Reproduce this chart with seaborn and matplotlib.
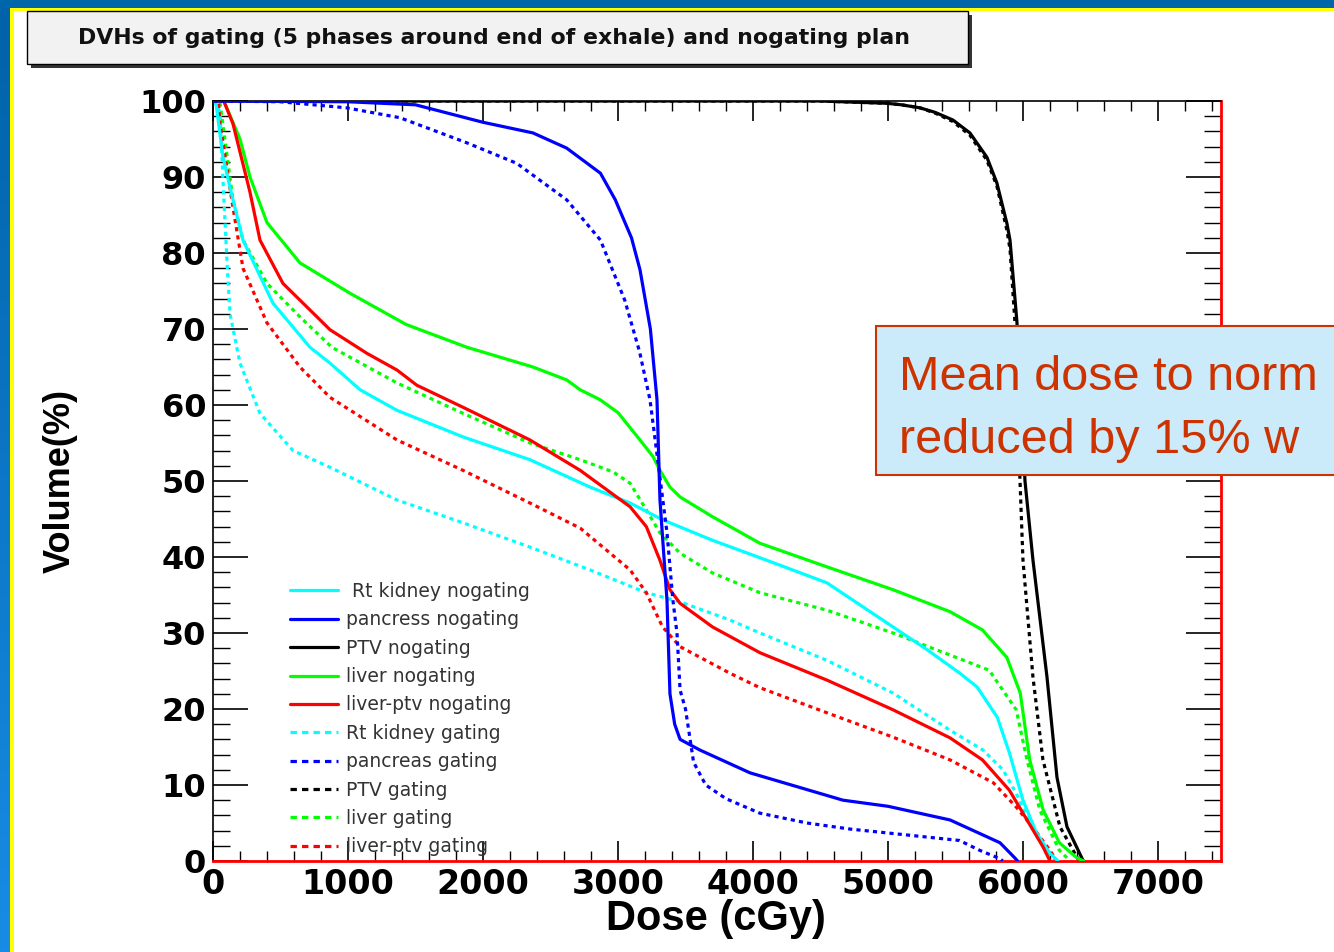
import numpy as np
import pandas as pd
import matplotlib
matplotlib.use("Agg")
import matplotlib.pyplot as plt
from matplotlib.lines import Line2D
from matplotlib.patches import Rectangle
from matplotlib.ticker import MultipleLocator
import seaborn as sns

# ---------------- data ----------------
title = "DVHs of gating (5 phases around end of exhale) and nogating plan"
x_label = "Dose (cGy)"
y_label = "Volume(%)"
x_ticks = [0, 1000, 2000, 3000, 4000, 5000, 6000, 7000]
y_ticks = [0, 10, 20, 30, 40, 50, 60, 70, 80, 90, 100]
# the note runs off the slide edge in the original; only this part is visible
note_lines = ["Mean dose to norm", "reduced by 15% w"]

labels = [" Rt kidney nogating", "pancress nogating", "PTV nogating", "liver nogating",
          "liver-ptv nogating", "Rt kidney gating", "pancreas gating", "PTV gating",
          "liver gating", "liver-ptv gating"]

dose_kidney_nogating = [0, 20, 74, 148, 222, 326, 444, 718, 867, 1090, 1363, 1852, 2348, 2793, 3090,
                        3330, 3700, 4052, 4548, 5037, 5290, 5533, 5660, 5810, 5900, 6000, 6100, 6200, 6260]
vol_kidney_nogating = [100, 100, 92.6, 87, 81.7, 77.8, 73.4, 67.6, 65.5, 62, 59.3, 55.8, 52.8, 49.2, 47.1,
                       44.9, 42.2, 39.9, 36.6, 30.8, 27.8, 24.7, 22.9, 18.9, 14.2, 8, 3.7, 1, 0]

dose_pancreas_nogating = [0, 1000, 1500, 2000, 2370, 2620, 2870, 2980, 3100, 3163, 3240, 3289, 3311,
                          3363, 3385, 3420, 3460, 3607, 3978, 4667, 5000, 5460, 5830, 5940, 5960]
vol_pancreas_nogating = [100, 99.9, 99.5, 97.2, 95.8, 93.8, 90.5, 87, 82, 77.8, 70, 60.7, 47.5,
                         34.3, 22, 18, 16, 14.6, 11.6, 8, 7.2, 5.4, 2.4, 0.4, 0]

dose_ptv_nogating = [0, 4496, 4993, 5100, 5237, 5350, 5481, 5607, 5733, 5807, 5881, 5904, 5955,
                     6015, 6074, 6178, 6252, 6326, 6444, 6450]
vol_ptv_nogating = [100, 100, 99.7, 99.5, 99.1, 98.5, 97.5, 95.8, 92.6, 89.2, 83.9, 81.7, 71,
                    50, 39.6, 24.2, 11, 4.5, 0.1, 0]

dose_liver_nogating = [0, 80, 200, 274, 400, 644, 1015, 1430, 1880, 2370, 2620, 2720, 2867, 3000,
                       3163, 3260, 3311, 3385, 3460, 3700, 4052, 4548, 5037, 5460, 5700, 5880, 5980,
                       6050, 6150, 6270, 6400, 6450]
vol_liver_nogating = [100, 100, 95, 90, 84, 78.7, 74.7, 70.6, 67.6, 65, 63.3, 62, 60.7, 59,
                      55.4, 53.2, 51.4, 49.2, 47.9, 45.3, 41.8, 38.7, 35.7, 32.8, 30.4, 26.8, 22.1,
                      13.3, 6.7, 2.4, 0.4, 0]

dose_liverptv_nogating = [0, 80, 148, 274, 348, 518, 770, 867, 1140, 1363, 1510, 1852, 2348, 2720,
                          3090, 3210, 3310, 3385, 3460, 3700, 4052, 4548, 5037, 5460, 5700, 5900,
                          6030, 6150, 6200]
vol_liverptv_nogating = [100, 100, 97, 88, 81.7, 76, 71.6, 69.9, 66.8, 64.6, 62.6, 59.7, 55.4, 51.4,
                         46.6, 44, 39.6, 35.7, 33.9, 30.8, 27.4, 23.8, 19.9, 16.2, 13.3, 9.3,
                         5.4, 1.8, 0]

dose_kidney_gating = [0, 40, 52, 74, 104, 126, 200, 348, 593, 867, 1363, 1852, 2348, 2793, 3210,
                      3460, 3830, 4052, 4548, 5037, 5460, 5704, 5852, 5950, 6052, 6178, 6240]
vol_kidney_gating = [100, 99, 98.4, 89.6, 78.7, 72, 65.5, 58.9, 54, 51.8, 47.5, 44.5, 41.3, 38.3, 35.3,
                     34.1, 31.7, 30, 26.4, 22.1, 17.2, 14.6, 12, 8.9, 5, 1.4, 0]

dose_pancreas_gating = [0, 500, 990, 1385, 1880, 2250, 2620, 2870, 3050, 3160, 3237, 3300, 3363,
                        3407, 3437, 3460, 3500, 3560, 3650, 3800, 4050, 4400, 4720, 5100, 5530,
                        5680, 5830, 5850]
vol_pancreas_gating = [100, 99.9, 99.1, 97.8, 94.5, 91.8, 87, 81.7, 73.8, 67, 60.7, 52, 43.2,
                       34.3, 30, 22.5, 20, 13, 10, 8.2, 6.3, 5, 4.2, 3.5, 2.7,
                       1.4, 0.3, 0]

dose_ptv_gating = [0, 4496, 4993, 5100, 5237, 5350, 5481, 5607, 5733, 5807, 5881, 5904, 5940,
                   5978, 6000, 6074, 6148, 6274, 6400, 6420]
vol_ptv_gating = [100, 100, 99.7, 99.5, 99.1, 98.4, 97.3, 95.5, 92.2, 88.8, 83, 80.5, 71,
                  50, 39.6, 24.2, 13.3, 4.5, 0.5, 0]

dose_liver_gating = [0, 50, 148, 222, 400, 644, 880, 1363, 1852, 2348, 2720, 2963, 3090, 3210,
                     3310, 3460, 3700, 4052, 4548, 5037, 5460, 5750, 5950, 6030, 6125, 6270, 6350]
vol_liver_gating = [100, 100, 87, 81.7, 76, 71.6, 67.6, 62.9, 58.9, 55, 52.8, 51.2, 49.7, 46.2,
                    43.2, 40.5, 37.9, 35.3, 33, 30, 27.1, 25.1, 19.9, 13.3, 6.7, 1.4, 0]

dose_liverptv_gating = [0, 40, 52, 148, 222, 400, 644, 867, 1363, 1852, 2348, 2720, 3090, 3210,
                        3330, 3460, 3830, 4052, 4548, 5037, 5460, 5780, 5950, 6070, 6200, 6250]
vol_liverptv_gating = [100, 100, 97, 86, 78, 70.8, 65, 61, 55.4, 51.4, 47.1, 43.8, 38.3, 35.3,
                       30.8, 28.2, 24.7, 22.8, 19.5, 16.3, 13.3, 10.3, 7.1, 4.5, 1.4, 0]

# ---------------- styling ----------------
W, H = 1334, 952
colors = ["#00FFFF", "#0000FF", "#000000", "#00FF00", "#FF0000"] * 2
gating = [False] * 5 + [True] * 5
series = [
    (dose_kidney_nogating, vol_kidney_nogating),
    (dose_pancreas_nogating, vol_pancreas_nogating),
    (dose_ptv_nogating, vol_ptv_nogating),
    (dose_liver_nogating, vol_liver_nogating),
    (dose_liverptv_nogating, vol_liverptv_nogating),
    (dose_kidney_gating, vol_kidney_gating),
    (dose_pancreas_gating, vol_pancreas_gating),
    (dose_ptv_gating, vol_ptv_gating),
    (dose_liver_gating, vol_liver_gating),
    (dose_liverptv_gating, vol_liverptv_gating),
]
zorders = [3, 6, 3, 3, 3, 2, 5, 2, 2, 2]

sns.set_style("white")
plt.rcParams["font.family"] = ["DejaVu Sans"]
plt.rcParams["text.color"] = "black"
plt.rcParams["axes.labelcolor"] = "black"
plt.rcParams["xtick.color"] = "black"
plt.rcParams["ytick.color"] = "black"

fig = plt.figure(figsize=(W / 100, H / 100), dpi=100)
fig.patch.set_facecolor("white")


def px(x0, y0, x1, y1):
    """pixel box (top-left origin) -> figure fraction rect"""
    return (x0 / W, 1 - y1 / H, (x1 - x0) / W, (y1 - y0) / H)


def add_rect(box, **kw):
    r = px(*box)
    p = Rectangle(r[:2], r[2], r[3], transform=fig.transFigure, **kw)
    fig.patches.append(p)
    return p


# slide frame: blue bands and thin yellow lines
grad_ax = fig.add_axes(px(0, 0, 10, H))
grad = np.linspace(0, 1, 256).reshape(-1, 1)
top_c = np.array([0, 98, 168]) / 255
bot_c = np.array([24, 140, 228]) / 255
img = top_c[None, None, :] * (1 - grad[..., None]) + bot_c[None, None, :] * grad[..., None]
grad_ax.imshow(img, aspect="auto")
grad_ax.set_axis_off()
add_rect((0, 0, W, 8), facecolor="#0066AA", edgecolor="none", zorder=0)
add_rect((10, 8, W, 10.5), facecolor="#FFFF00", edgecolor="none", zorder=0)
add_rect((10, 8, 14, H), facecolor="#FFFF00", edgecolor="none", zorder=0)

# title box with shadow
add_rect((31, 15, 972, 68), facecolor="#333333", edgecolor="none", zorder=1)
add_rect((27, 11, 968, 64), facecolor="#F2F2F2", edgecolor="black", linewidth=1.0, zorder=2)
fig.text(494 / W, 1 - 38 / H, title, ha="center", va="center", fontsize=15.8,
         fontweight="bold", color="#111111", zorder=3)

# main axes
ax = fig.add_axes(px(213, 101, 1221, 861))
for (d, v), c, g, lab, z in zip(series, colors, gating, labels, zorders):
    df = pd.DataFrame({"dose": d, "volume": v})
    sns.lineplot(data=df, x="dose", y="volume", color=c, sort=False, estimator=None,
                 ax=ax, legend=False, linewidth=2.3)
    ln = ax.lines[-1]
    ln.set_zorder(z)
    if g:
        ln.set_linestyle((0, (1.3, 1.3)))

ax.set_xlim(0, 7467)
ax.set_ylim(0, 100)
ax.set_xticks(x_ticks)
ax.set_yticks(y_ticks)
ax.xaxis.set_minor_locator(MultipleLocator(200))
ax.yaxis.set_minor_locator(MultipleLocator(2))
ax.tick_params(axis="x", which="major", direction="in", length=14.5, width=1.2,
               top=True, bottom=True, labelsize=24, pad=5, colors="black")
ax.tick_params(axis="x", which="minor", direction="in", length=7.3, width=1.0,
               top=True, bottom=True)
ax.tick_params(axis="y", which="major", direction="in", length=25, width=1.2,
               left=True, right=True, labelsize=23, pad=5, colors="black")
ax.tick_params(axis="y", which="minor", direction="in", length=12, width=1.0,
               left=True, right=True)
for t in ax.get_xticklabels() + ax.get_yticklabels():
    t.set_fontweight("bold")
for s in ["left", "top"]:
    ax.spines[s].set_color("black")
    ax.spines[s].set_linewidth(1.2)
for s in ["right", "bottom"]:
    ax.spines[s].set_color("#FF0000")
    ax.spines[s].set_linewidth(2.0)

ax.set_xlabel(x_label, fontsize=30, fontweight="bold", color="black",
              family=["Liberation Sans", "DejaVu Sans"])
ax.set_ylabel(y_label, fontsize=26, fontweight="bold", color="black",
              family=["Liberation Sans", "DejaVu Sans"])
ax.xaxis.label.set_va("center")
ax.yaxis.label.set_va("center")
ax.xaxis.set_label_coords((716 - 213) / 1008, -(919 - 861) / 760)
ax.yaxis.set_label_coords(-(213 - 60) / 1008, (861 - 481) / 760)

# legend (no frame)
handles = []
for c, g in zip(colors, gating):
    handles.append(Line2D([0], [0], color=c, linewidth=2.3,
                          linestyle=(0, (2.0, 1.6)) if g else "-"))
leg = ax.legend(handles, labels, loc="upper left",
                bbox_to_anchor=((290 - 213) / 1008, (861 - 582) / 760),
                frameon=False, fontsize=13.5, handlelength=2.55, handletextpad=0.45,
                labelspacing=0.5, borderpad=0, borderaxespad=0)
for t in leg.get_texts():
    t.set_color("#333333")

# note box (runs off the right edge of the slide, as in the original)
add_rect((876, 326, W + 20, 475), facecolor="#CCEBFA", edgecolor="#CC3300",
         linewidth=1.5, zorder=10)
for line, base in zip(note_lines, [390, 453]):
    fig.text(899 / W, 1 - base / H, line, ha="left", va="baseline", fontsize=35,
             color="#CC3300", family=["Liberation Sans", "DejaVu Sans"], zorder=11)

fig.savefig("out.png", dpi=100, facecolor="white")
